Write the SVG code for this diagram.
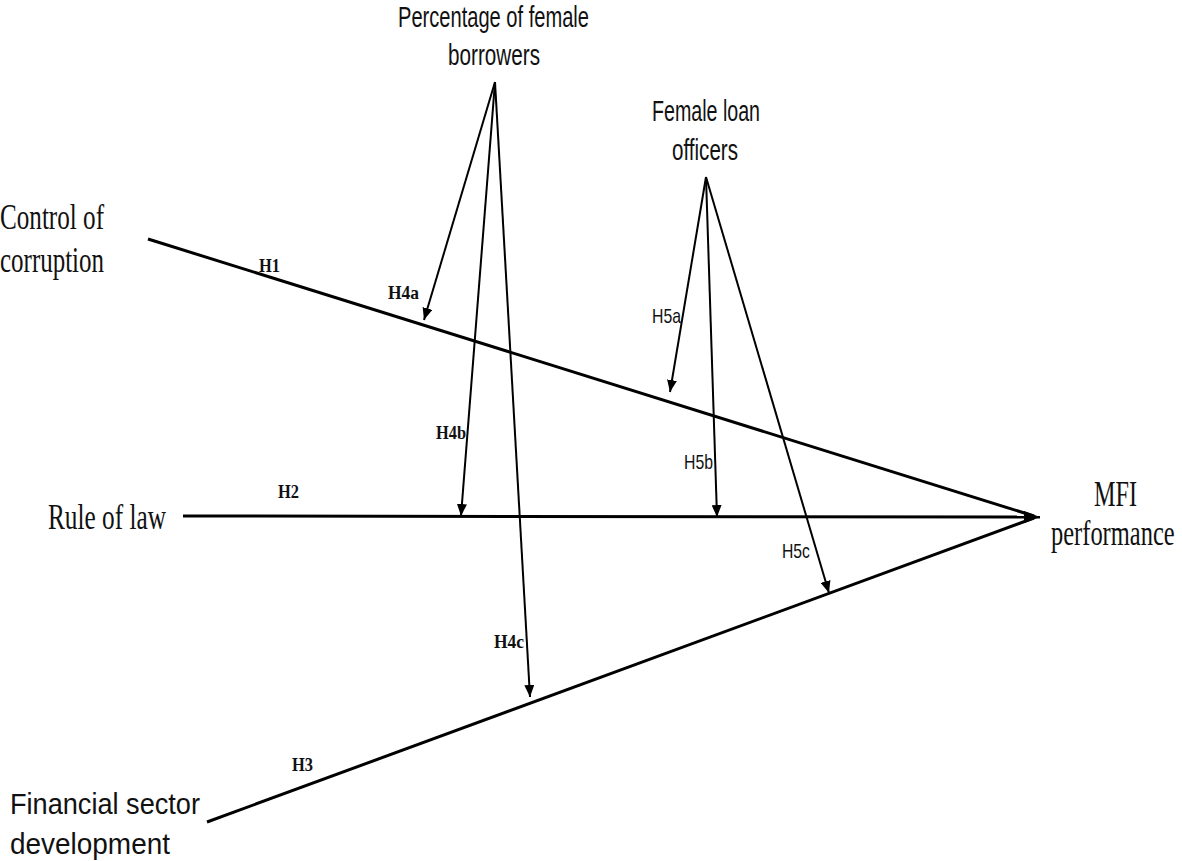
<svg xmlns="http://www.w3.org/2000/svg" width="1182" height="861" viewBox="0 0 1182 861">
<style>
.serif{font-family:"Liberation Serif","Times New Roman",serif;font-size:36px;fill:#111}
.sans{font-family:"Liberation Sans",Arial,sans-serif;font-size:30px;fill:#111}
.hb{font-family:"Liberation Serif","Times New Roman",serif;font-size:19px;font-weight:bold;fill:#111}
.hs{font-family:"Liberation Sans",Arial,sans-serif;font-size:21px;fill:#111}
.main{stroke:#000;stroke-width:3;fill:none}
.arr{stroke:#000;stroke-width:2;fill:none}
</style>
<defs>
<marker id="ah" viewBox="0 0 12 10" refX="12" refY="5" markerWidth="12" markerHeight="10" markerUnits="userSpaceOnUse" orient="auto">
<path d="M0,0 L12,5 L0,10 Z" fill="#000"/>
</marker>
<marker id="ahb" viewBox="0 0 16 12" refX="16" refY="6" markerWidth="16" markerHeight="12" markerUnits="userSpaceOnUse" orient="auto">
<path d="M0,0 L16,6 L0,12 Z" fill="#000"/>
</marker>
</defs>
<rect width="1182" height="861" fill="#fff"/>
<g id="connectors">
<line class="main" x1="148" y1="239" x2="1034" y2="516"/>
<line class="main" x1="183" y1="516" x2="1040" y2="517" marker-end="url(#ahb)"/>
<line class="main" x1="207" y1="822" x2="1034" y2="518"/>
<line class="arr" x1="495" y1="82" x2="424" y2="320" marker-end="url(#ah)"/>
<line class="arr" x1="495" y1="82" x2="461" y2="516" marker-end="url(#ah)"/>
<line class="arr" x1="495" y1="82" x2="530" y2="697" marker-end="url(#ah)"/>
<line class="arr" x1="706" y1="177" x2="670" y2="392" marker-end="url(#ah)"/>
<line class="arr" x1="706" y1="177" x2="717" y2="517" marker-end="url(#ah)"/>
<line class="arr" x1="706" y1="177" x2="829" y2="593" marker-end="url(#ah)"/>
<text class="hb" x="259" y="272" textLength="21" lengthAdjust="spacingAndGlyphs">H1</text>
<text class="hb" x="278" y="498" textLength="21" lengthAdjust="spacingAndGlyphs">H2</text>
<text class="hb" x="292" y="771" textLength="21" lengthAdjust="spacingAndGlyphs">H3</text>
<text class="hb" x="388" y="299" textLength="31" lengthAdjust="spacingAndGlyphs">H4a</text>
<text class="hb" x="436" y="439" textLength="30" lengthAdjust="spacingAndGlyphs">H4b</text>
<text class="hb" x="494" y="648" textLength="30" lengthAdjust="spacingAndGlyphs">H4c</text>
<text class="hs" x="652" y="323" textLength="29" lengthAdjust="spacingAndGlyphs">H5a</text>
<text class="hs" x="684" y="469" textLength="29" lengthAdjust="spacingAndGlyphs">H5b</text>
<text class="hs" x="782" y="558" textLength="28" lengthAdjust="spacingAndGlyphs">H5c</text>
</g>
<g id="node-control">
<text class="serif" x="0" y="229" textLength="104" lengthAdjust="spacingAndGlyphs">Control of</text>
<text class="serif" x="0" y="272" textLength="104" lengthAdjust="spacingAndGlyphs">corruption</text>
</g>
<g id="node-rule">
<text class="serif" x="48" y="529" textLength="118" lengthAdjust="spacingAndGlyphs">Rule of law</text>
</g>
<g id="node-financial">
<text class="sans" x="10" y="814" textLength="190" lengthAdjust="spacingAndGlyphs">Financial sector</text>
<text class="sans" x="10" y="854" textLength="160" lengthAdjust="spacingAndGlyphs">development</text>
</g>
<g id="node-mfi">
<text class="serif" x="1094" y="506" textLength="43" lengthAdjust="spacingAndGlyphs">MFI</text>
<text class="serif" transform="translate(1051,545) scale(0.68,1)" x="0" y="0">performance</text>
</g>
<g id="node-borrowers">
<text class="sans" x="398" y="27" textLength="191" lengthAdjust="spacingAndGlyphs">Percentage of female</text>
<text class="sans" x="448" y="65" textLength="92" lengthAdjust="spacingAndGlyphs">borrowers</text>
</g>
<g id="node-officers">
<text class="sans" x="652" y="121" textLength="108" lengthAdjust="spacingAndGlyphs">Female loan</text>
<text class="sans" x="672" y="160" textLength="66" lengthAdjust="spacingAndGlyphs">officers</text>
</g>
</svg>
